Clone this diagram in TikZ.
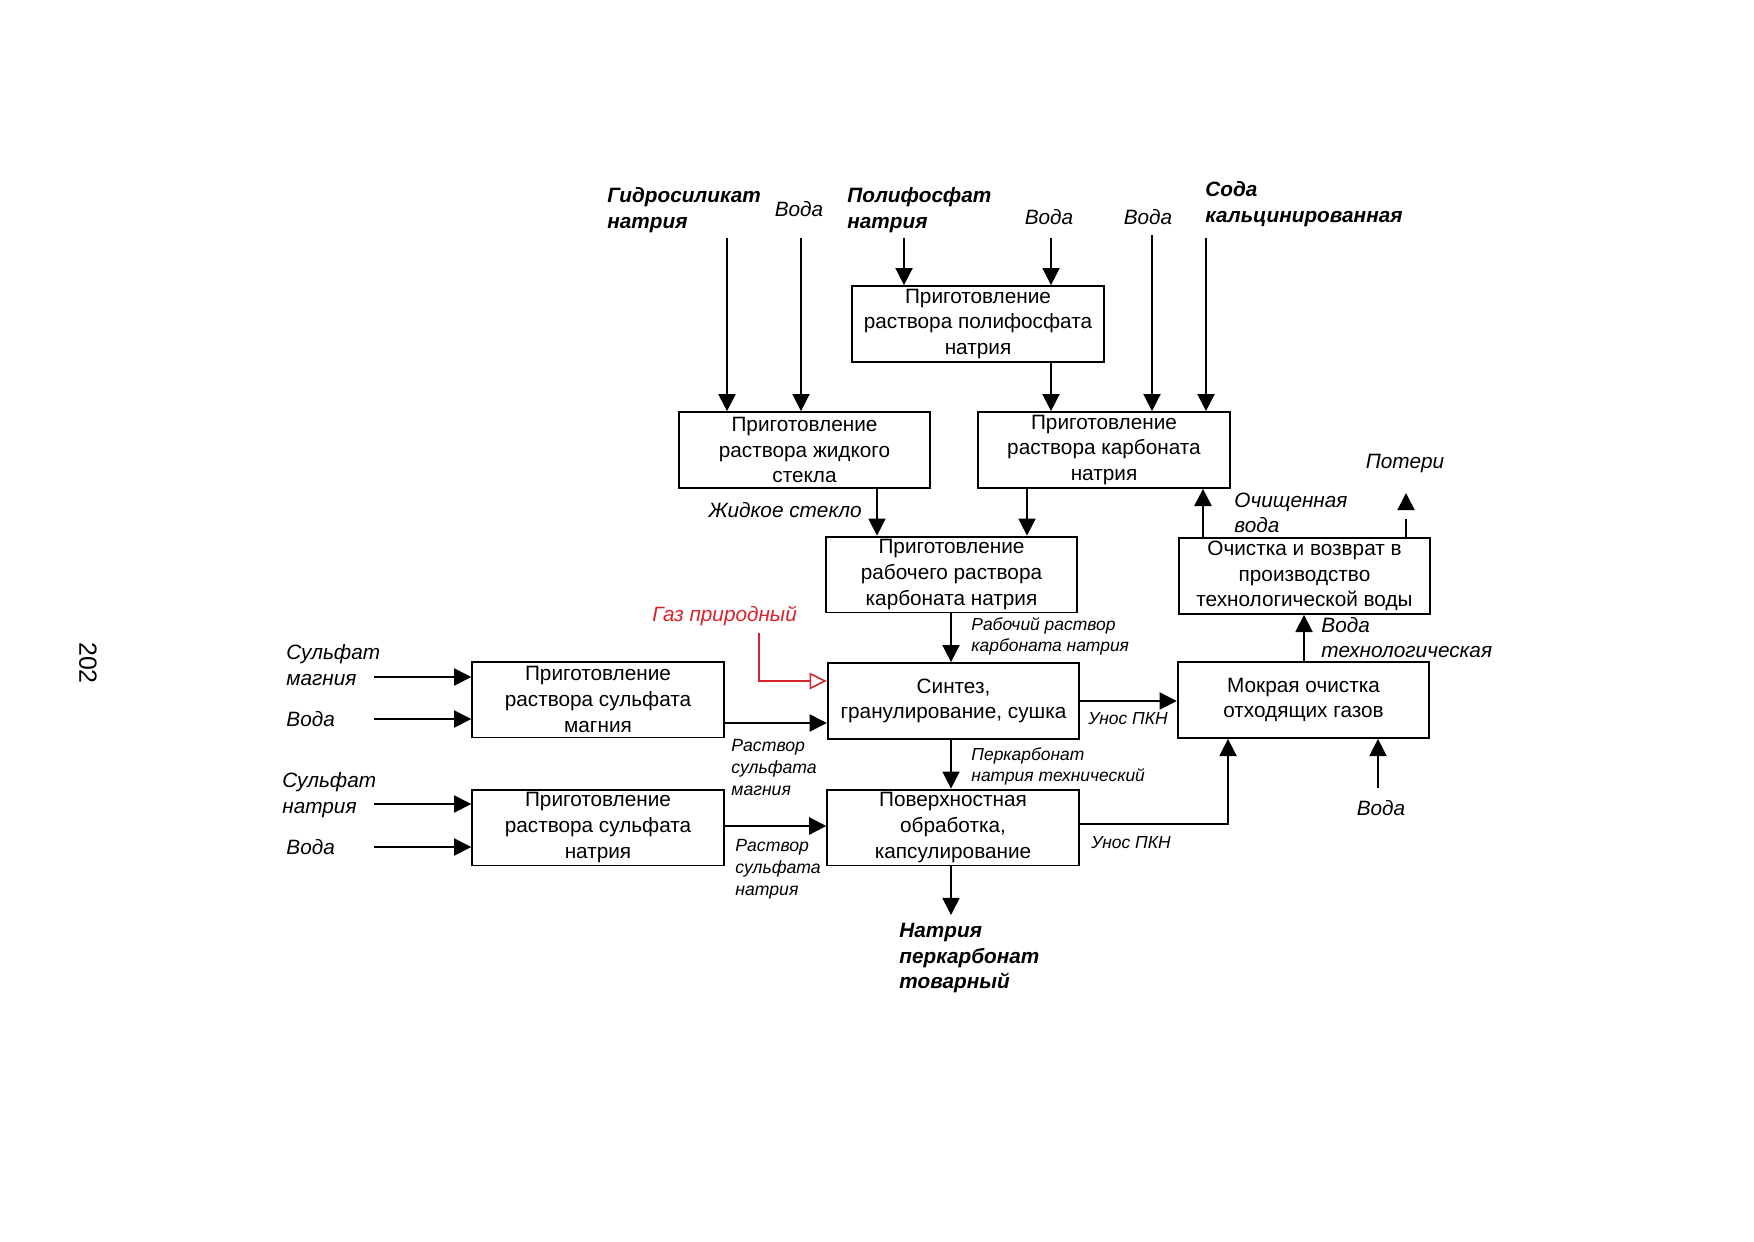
\documentclass[tikz,border=0pt]{standalone}
\usepackage{fontspec}
\setmainfont{Liberation Sans}
\usetikzlibrary{arrows.meta}
\definecolor{gasred}{RGB}{215,35,45}
\begin{document}
\begin{tikzpicture}[x=0.16933mm,y=-0.16933mm,
  box/.style={draw, line width=0.9pt, inner sep=0pt, align=center,
    minimum width=42.6mm, minimum height=12.85mm, font=\fontsize{10}{12.4}\selectfont},
  arr/.style={line width=0.75pt, -{Triangle[length=2.9mm,width=2.9mm]}},
  arrT/.style={line width=1.1pt, -{Triangle[length=2.9mm,width=2.9mm]}},
  lbl/.style={inner sep=0pt, align=left, font=\fontsize{10}{12.3}\selectfont\itshape},
  blbl/.style={inner sep=0pt, align=left, font=\fontsize{10}{12.3}\selectfont\bfseries\itshape},
  slbl/.style={inner sep=0pt, align=left, font=\fontsize{8.4}{10.2}\selectfont\itshape},
]
\useasboundingbox (0,0) rectangle (1754,1241);

% page number
\node[rotate=-90, inner sep=0pt, font=\fontsize{12}{14}\selectfont] (pg) at (88,663) {202};

% boxes
\node[box] (B1) at (978,324) {Приготовление\\раствора полифосфата\\натрия};
\node[box] (B2) at (804.5,450) {Приготовление\\раствора жидкого\\стекла};
\node[box] (B3) at (1104,450) {Приготовление\\раствора карбоната\\натрия};
\node[box] (B4) at (951.5,574.5) {Приготовление\\рабочего раствора\\карбоната натрия};
\node[box] (B5) at (953.5,701) {Синтез,\\гранулирование, сушка};
\node[box] (B6) at (598,699.5) {Приготовление\\раствора сульфата\\магния};
\node[box] (B7) at (953,827.5) {Поверхностная\\обработка,\\капсулирование};
\node[box] (B8) at (1303.5,700) {Мокрая очистка\\отходящих газов};
\node[box] (B9) at (1304.5,576) {Очистка и возврат в\\производство\\технологической воды};
\node[box] (B10) at (598,827.5) {Приготовление\\раствора сульфата\\натрия};

% top labels
\node[blbl, anchor=west] (tGid) at (607,210) {Гидросиликат\\натрия};
\node[lbl] (tV1) at (799,209) {Вода};
\node[blbl, anchor=west] (tPol) at (847,210) {Полифосфат\\натрия};
\node[lbl] (tV2) at (1049,217) {Вода};
\node[lbl] (tV3) at (1148,217) {Вода};
\node[blbl, anchor=west] (tSoda) at (1205,204) {Сода\\кальцинированная};

% top inputs
\coordinate (cGid) at (727,238);
\coordinate (cV1) at (801,238);
\coordinate (cPol) at (904,238);
\coordinate (cV2) at (1051,238);
\coordinate (cV3) at (1152,235);
\coordinate (cSoda) at (1206,238);
\draw[arrT] (cGid) -- (cGid |- B2.north);
\draw[arr] (cV1) -- (cV1 |- B2.north);
\draw[arr] (cPol) -- (cPol |- B1.north);
\draw[arr] (cV2) -- (cV2 |- B1.north);
\draw[arr] (cV3) -- (cV3 |- B3.north);
\draw[arr] (cSoda) -- (cSoda |- B3.north);

% box to box
\draw[arr] (B1.south -| cV2) -- (B3.north -| cV2);
\coordinate (xGl) at (877,0);
\coordinate (xCb) at (1027,0);
\coordinate (xMid) at (951,0);
\draw[arr] (B2.south -| xGl) -- (B4.north -| xGl);
\draw[arr] (B3.south -| xCb) -- (B4.north -| xCb);
\draw[arr] (B4.south -| xMid) -- (B5.north -| xMid);
\draw[arr] (B5.south -| xMid) -- (B7.north -| xMid);
\coordinate (prod) at (951,915);
\draw[arr] (B7.south -| xMid) -- (prod);

\node[lbl, anchor=east] (lGl) at (862,510) {Жидкое стекло};
\node[slbl, anchor=west] (lWork) at (971,636.5) {Рабочий раствор\\карбоната натрия};
\node[slbl, anchor=west] (lPerc) at (971,766) {Перкарбонат\\натрия технический};
\node[blbl, anchor=west, font=\fontsize{10}{12.2}\selectfont\bfseries\itshape] (lProd) at (899,958) {Натрия\\перкарбонат\\товарный};

% gas
\node[lbl, text=gasred, anchor=west] (lGas) at (652,616) {Газ природный};
\coordinate (g1) at (759,633);
\coordinate (g2) at (759,681);
\draw[gasred, line width=0.75pt, -{Triangle[open,length=2.9mm,width=2.8mm]}] (g1) -- (g2) -- (g2 -| B5.west);

% Mg sulfate
\node[lbl, anchor=west] (lMg) at (286,665) {Сульфат\\магния};
\node[lbl, anchor=west] (lMgV) at (286,719) {Вода};
\coordinate (m1) at (374,677);
\coordinate (m2) at (374,719);
\draw[arr] (m1) -- (m1 -| B6.west);
\draw[arr] (m2) -- (m2 -| B6.west);
\coordinate (m3) at (0,723);
\draw[arr] (B6.east |- m3) -- (B5.west |- m3);
\node[slbl, anchor=west, font=\fontsize{8.5}{10.6}\selectfont\itshape] (lMgS) at (731,768) {Раствор\\сульфата\\магния};

% Na sulfate
\node[lbl, anchor=west] (lNa) at (282,795) {Сульфат\\натрия};
\node[lbl, anchor=west] (lNaV) at (286,847) {Вода};
\coordinate (n1) at (374,804);
\coordinate (n2) at (374,847);
\draw[arr] (n1) -- (n1 -| B10.west);
\draw[arr] (n2) -- (n2 -| B10.west);
\coordinate (n3) at (0,826);
\draw[arrT] (B10.east |- n3) -- (B7.west |- n3);
\node[slbl, anchor=west, font=\fontsize{8.5}{10.6}\selectfont\itshape] (lNaS) at (735,869) {Раствор\\сульфата\\натрия};

% to wet cleaning
\coordinate (u1) at (0,701);
\draw[arr] (B5.east |- u1) -- (B8.west |- u1);
\node[slbl, anchor=west] (lU1) at (1088,719) {Унос ПКН};
\coordinate (u2) at (1228,824);
\draw[arr] (B7.east |- u2) -- (u2) -- (u2 |- B8.south);
\node[slbl, anchor=west] (lU2) at (1091,843) {Унос ПКН};
\coordinate (w1) at (1378,788);
\draw[arr] (w1) -- (w1 |- B8.south);
\node[lbl] (lW1) at (1381,808) {Вода};

% water return
\coordinate (xTw) at (1304,0);
\draw[arr] (B8.north -| xTw) -- (B9.south -| xTw);
\node[lbl, anchor=west] (lTw) at (1321,637.5) {Вода\\технологическая};
\coordinate (xCl) at (1203,0);
\draw[arrT] (B9.north -| xCl) -- (B3.south -| xCl);
\node[lbl, anchor=west] (lCl) at (1234,513) {Очищенная\\вода};
\coordinate (loss) at (1406,493);
\draw[arr, dash pattern=on 8.7pt off 20pt] (B9.north -| loss) -- (loss);
\node[lbl] (lLoss) at (1405,464) {Потери};
\end{tikzpicture}
\end{document}
